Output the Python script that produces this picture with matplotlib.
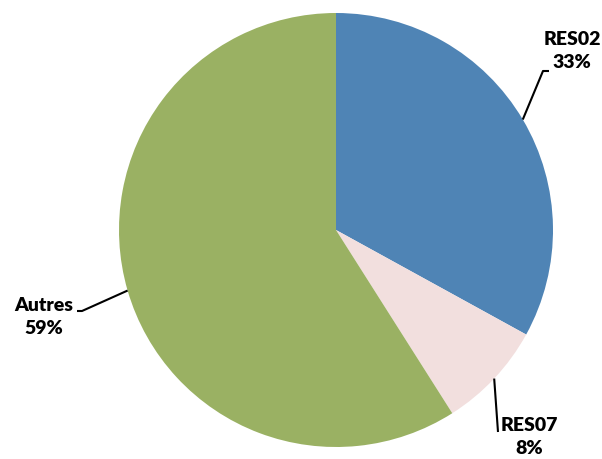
import numpy as np
import matplotlib
matplotlib.use("Agg")
import matplotlib.pyplot as plt

categories = ["RES02", "RES07", "Autres"]
values = [33, 8, 59]
colors = ["#4F84B5", "#F2DFDE", "#9AB163"]

W, H = 602, 459
fig = plt.figure(figsize=(W / 100, H / 100), dpi=100)
ax = fig.add_axes([0, 0, 1, 1])

cx, cy, r = 336, 229, 217
wedges, _ = ax.pie(values, colors=colors, startangle=90, counterclock=False,
                   center=(cx, cy), radius=r, frame=True,
                   wedgeprops=dict(linewidth=0))
ax.set_xlim(0, W)
ax.set_ylim(0, H)
ax.set_aspect("equal")
ax.axis("off")

# label layout (pixel coordinates from top-left)
label_pos = {"RES02": (572, 51), "RES07": (529, 437), "Autres": (44, 317)}
elbows = {
    "RES02": [(543, 71), (549, 71)],
    "RES07": [(498, 432)],
    "Autres": [(82, 311), (77, 311)],
}

for w, cat, val in zip(wedges, categories, values):
    ang = np.deg2rad((w.theta1 + w.theta2) / 2)
    x0 = cx + r * np.cos(ang)
    y0 = cy + r * np.sin(ang)
    pts = [(x0, y0)] + [(px, H - py) for px, py in elbows[cat]]
    xs, ys = zip(*pts)
    ax.plot(xs, ys, color="black", lw=1.5, solid_capstyle="butt")
    lx, ly = label_pos[cat]
    ax.text(lx, H - ly, f"{cat}\n{val}%", ha="center", va="center",
            fontsize=14, fontweight="heavy", family="Lato",
            linespacing=1.4, color="black")

fig.savefig("out.png", dpi=100)
